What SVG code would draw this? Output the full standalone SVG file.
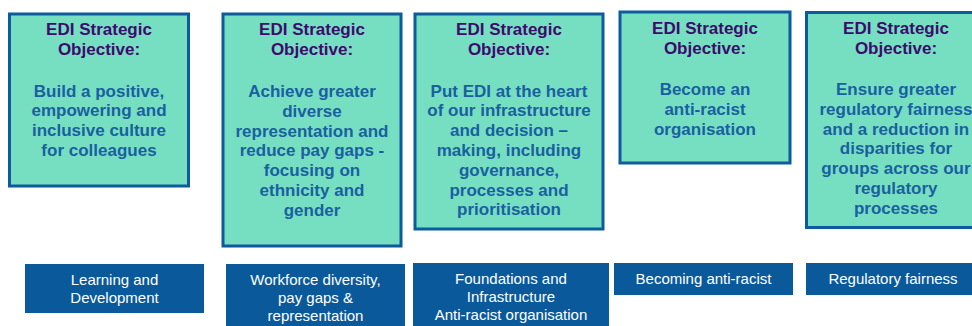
<svg xmlns="http://www.w3.org/2000/svg" width="972" height="326" viewBox="0 0 972 326">
  <style>
    .obj { fill: #76dfc2; stroke: #0d5b9c; stroke-width: 3; }
    .tag { fill: #0a5a9b; }
    .title { font-family: "Liberation Sans", Arial, sans-serif; font-weight: bold; font-size: 17px; fill: #3d0b6e; text-anchor: middle; }
    .body { font-family: "Liberation Sans", Arial, sans-serif; font-weight: bold; font-size: 17px; fill: #1a60a0; text-anchor: middle; }
    .label { font-family: "Liberation Sans", Arial, sans-serif; font-size: 15px; fill: #ffffff; text-anchor: middle; }
  </style>
  <rect width="972" height="326" fill="#ffffff"/>

  <!-- Objective boxes -->
  <g id="objective-culture">
    <rect class="obj" x="9.5" y="14" width="179" height="172"/>
    <text class="title" x="99" y="34.5">EDI Strategic</text>
    <text class="title" x="99" y="54.5">Objective:</text>
    <text class="body" x="99" y="96.5">Build a positive,</text>
    <text class="body" x="99" y="116.3">empowering and</text>
    <text class="body" x="99" y="136.1">inclusive culture</text>
    <text class="body" x="99" y="155.9">for colleagues</text>
  </g>

  <g id="objective-representation">
    <rect class="obj" x="223" y="14" width="178" height="232"/>
    <text class="title" x="312" y="35">EDI Strategic</text>
    <text class="title" x="312" y="55">Objective:</text>
    <text class="body" x="312" y="97">Achieve greater</text>
    <text class="body" x="312" y="116.8">diverse</text>
    <text class="body" x="312" y="136.6">representation and</text>
    <text class="body" x="312" y="156.4">reduce pay gaps -</text>
    <text class="body" x="312" y="176.2">focusing on</text>
    <text class="body" x="312" y="196">ethnicity and</text>
    <text class="body" x="312" y="215.8">gender</text>
  </g>

  <g id="objective-infrastructure">
    <rect class="obj" x="415" y="14" width="188" height="215"/>
    <text class="title" x="509" y="35">EDI Strategic</text>
    <text class="title" x="509" y="55">Objective:</text>
    <text class="body" x="509" y="96.5">Put EDI at the heart</text>
    <text class="body" x="509" y="116.3">of our infrastructure</text>
    <text class="body" x="509" y="136.1">and decision –</text>
    <text class="body" x="509" y="155.9">making, including</text>
    <text class="body" x="509" y="175.7">governance,</text>
    <text class="body" x="509" y="195.5">processes and</text>
    <text class="body" x="509" y="215.3">prioritisation</text>
  </g>

  <g id="objective-anti-racist">
    <rect class="obj" x="620" y="12" width="170" height="151"/>
    <text class="title" x="705" y="33.5">EDI Strategic</text>
    <text class="title" x="705" y="53.5">Objective:</text>
    <text class="body" x="705" y="95">Become an</text>
    <text class="body" x="705" y="114.8">anti-racist</text>
    <text class="body" x="705" y="134.6">organisation</text>
  </g>

  <g id="objective-regulatory">
    <rect class="obj" x="806.5" y="12.5" width="180" height="215"/>
    <text class="title" x="896" y="33.5">EDI Strategic</text>
    <text class="title" x="896" y="53.5">Objective:</text>
    <text class="body" x="896" y="95">Ensure greater</text>
    <text class="body" x="896" y="114.8">regulatory fairness</text>
    <text class="body" x="896" y="134.6">and a reduction in</text>
    <text class="body" x="896" y="154.4">disparities for</text>
    <text class="body" x="896" y="174.2">groups across our</text>
    <text class="body" x="896" y="194">regulatory</text>
    <text class="body" x="896" y="213.8">processes</text>
  </g>

  <!-- Workstream labels -->
  <g id="tag-learning">
    <rect class="tag" x="25" y="264" width="179" height="49"/>
    <text class="label" x="114.5" y="285">Learning and</text>
    <text class="label" x="114.5" y="303">Development</text>
  </g>

  <g id="tag-workforce">
    <rect class="tag" x="226" y="264" width="179" height="62"/>
    <text class="label" x="315.5" y="285">Workforce diversity,</text>
    <text class="label" x="315.5" y="303">pay gaps &amp;</text>
    <text class="label" x="315.5" y="321">representation</text>
  </g>

  <g id="tag-foundations">
    <rect class="tag" x="413" y="263" width="196" height="63"/>
    <text class="label" x="511" y="284">Foundations and</text>
    <text class="label" x="511" y="302">Infrastructure</text>
    <text class="label" x="511" y="320">Anti-racist organisation</text>
  </g>

  <g id="tag-anti-racist">
    <rect class="tag" x="614" y="263" width="179" height="32"/>
    <text class="label" x="703.5" y="283.5">Becoming anti-racist</text>
  </g>

  <g id="tag-regulatory">
    <rect class="tag" x="806" y="263" width="170" height="32"/>
    <text class="label" x="893" y="283.5">Regulatory fairness</text>
  </g>

  <g id="connectors"/>
</svg>
